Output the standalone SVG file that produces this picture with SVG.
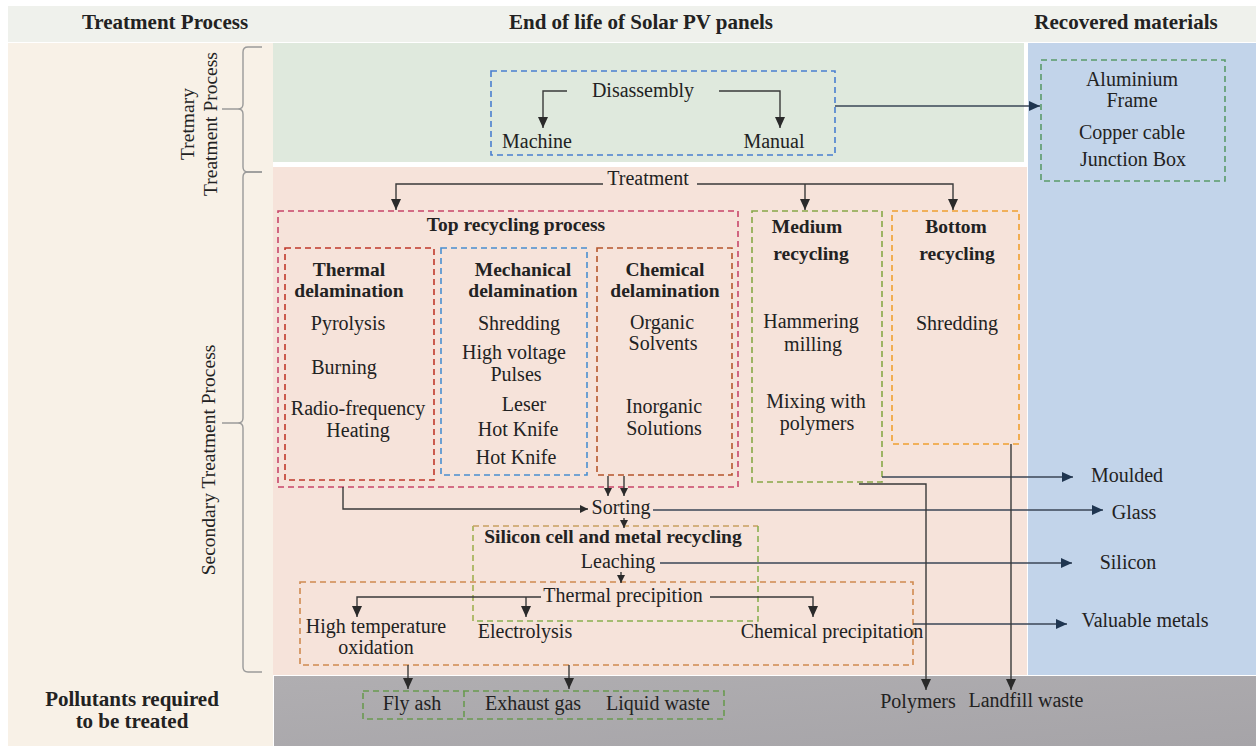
<svg xmlns="http://www.w3.org/2000/svg" width="1256" height="746" viewBox="0 0 1256 746">
<defs>
<marker id="ah" markerUnits="userSpaceOnUse" markerWidth="11" markerHeight="10" refX="11" refY="5" orient="auto"><path d="M0,0 L11,5 L0,10 Z" fill="#2a2a2a"/></marker>
<marker id="ab" markerUnits="userSpaceOnUse" markerWidth="11" markerHeight="10" refX="11" refY="5" orient="auto"><path d="M0,0 L11,5 L0,10 Z" fill="#1f3550"/></marker>
<marker id="as" markerUnits="userSpaceOnUse" markerWidth="8" markerHeight="8" refX="8" refY="4" orient="auto"><path d="M0,0 L8,4 L0,8 Z" fill="#2a2a2a"/></marker>
<linearGradient id="gr" x1="0" y1="0" x2="1" y2="1"><stop offset="0" stop-color="#b0aeb1"/><stop offset="1" stop-color="#a6a4a8"/></linearGradient>
</defs>
<style>
.t{font-family:"Liberation Serif",serif;font-size:20px;fill:#222;text-anchor:middle}
.b{font-weight:bold;font-size:19.5px}
.h{font-size:21px;font-weight:bold}
.v{font-size:19.5px}
.ln{fill:none;stroke:#3a3a3a;stroke-width:1.4}
.lb{fill:none;stroke:#3a4656;stroke-width:1.4}
.d{fill:none;stroke-width:1.6;stroke-dasharray:6 4}
.br{fill:none;stroke:#9a9a9a;stroke-width:1.4}
</style>
<rect x="0" y="0" width="1256" height="746" fill="#ffffff"/>
<g id="background">
<rect x="8" y="6" width="1248" height="36" fill="#eff1ec"/>
<rect x="8" y="43" width="265" height="703" fill="#f8f1e7"/>
<rect x="273" y="43" width="751" height="119" fill="#dfe9dd"/>
<rect x="273" y="167" width="754" height="508" fill="#f6e3da"/>
<rect x="1028" y="43" width="228" height="632" fill="#c2d4ea"/>
<rect x="274" y="676" width="982" height="70" fill="url(#gr)"/>
</g>
<g id="headers">
<text class="t h" x="165" y="29">Treatment Process</text>
<text class="t h" x="641" y="29">End of life of Solar PV panels</text>
<text class="t h" x="1126" y="29">Recovered materials</text>
</g>
<g id="side-labels">
<path class="br" d="M262,47 H248 Q243,47 243,52 V104 Q243,109 238,109 H222 M238,109 Q243,109 243,114 V167 Q243,172 248,172 H262"/>
<path class="br" d="M262,172 H248 Q243,172 243,177 V418 Q243,423 238,423 H222 M238,423 Q243,423 243,428 V667 Q243,672 248,672 H262"/>
<text class="t v" transform="translate(194,124) rotate(-90)">Tretmary</text>
<text class="t v" transform="translate(217,124) rotate(-90)">Treatment Process</text>
<text class="t v" transform="translate(215,460) rotate(-90)">Secondary Treatment Process</text>
<text class="t h" x="132" y="706">Pollutants required</text>
<text class="t h" x="132" y="728">to be treated</text>
</g>
<g id="disassembly">
<rect class="d" x="491" y="71" width="344" height="84" stroke="#4a7fcf"/>
<text class="t" x="643" y="97">Disassembly</text>
<text class="t" x="537" y="148">Machine</text>
<text class="t" x="774" y="148">Manual</text>
</g>
<g id="recovered-parts">
<rect class="d" x="1041" y="60" width="184" height="121" stroke="#5a9a6a"/>
<text class="t" x="1132" y="86">Aluminium</text>
<text class="t" x="1132" y="107">Frame</text>
<text class="t" x="1132" y="139">Copper cable</text>
<text class="t" x="1133" y="166">Junction Box</text>
</g>
<g id="treatment">
<text class="t" x="648" y="185">Treatment</text>
</g>
<g id="top-recycling">
<rect class="d" x="278" y="211" width="460" height="276" stroke="#c8466a"/>
<text class="t b" x="516" y="231">Top recycling process</text>
</g>
<g id="thermal">
<rect class="d" x="285" y="248" width="149" height="232" stroke="#c0392b"/>
<text class="t b" x="349" y="276">Thermal</text>
<text class="t b" x="349" y="297">delamination</text>
<text class="t" x="348" y="330">Pyrolysis</text>
<text class="t" x="344" y="374">Burning</text>
<text class="t" x="358" y="415">Radio-frequency</text>
<text class="t" x="358" y="437">Heating</text>
</g>
<g id="mechanical">
<rect class="d" x="441" y="248" width="146" height="227" stroke="#4a8fd0"/>
<text class="t b" x="523" y="276">Mechanical</text>
<text class="t b" x="523" y="297">delamination</text>
<text class="t" x="519" y="330">Shredding</text>
<text class="t" x="514" y="359">High voltage</text>
<text class="t" x="516" y="381">Pulses</text>
<text class="t" x="524" y="411">Leser</text>
<text class="t" x="518" y="436">Hot Knife</text>
<text class="t" x="516" y="464">Hot Knife</text>
</g>
<g id="chemical">
<rect class="d" x="597" y="248" width="135" height="227" stroke="#b5562c"/>
<text class="t b" x="665" y="276">Chemical</text>
<text class="t b" x="665" y="297">delamination</text>
<text class="t" x="662" y="329">Organic</text>
<text class="t" x="663" y="350">Solvents</text>
<text class="t" x="664" y="413">Inorganic</text>
<text class="t" x="664" y="435">Solutions</text>
</g>
<g id="medium">
<rect class="d" x="752" y="211" width="130" height="271" stroke="#88a848"/>
<text class="t b" x="807" y="233">Medium</text>
<text class="t b" x="811" y="260">recycling</text>
<text class="t" x="811" y="328">Hammering</text>
<text class="t" x="813" y="351">milling</text>
<text class="t" x="816" y="408">Mixing with</text>
<text class="t" x="817" y="430">polymers</text>
</g>
<g id="bottom">
<rect class="d" x="892" y="211" width="127" height="233" stroke="#f0a030"/>
<text class="t b" x="956" y="233">Bottom</text>
<text class="t b" x="957" y="260">recycling</text>
<text class="t" x="957" y="330">Shredding</text>
</g>
<g id="sorting">
<text class="t" x="621" y="514">Sorting</text>
</g>
<g id="silicon">
<path class="d" d="M473,621 V526" stroke="#a0b050"/>
<path class="d" d="M473,526 H758" stroke="#c8a060"/>
<path class="d" d="M758,526 V621 H473" stroke="#8ab050"/>
<text class="t b" x="613" y="543">Silicon cell and metal recycling</text>
<text class="t" x="618" y="568">Leaching</text>
</g>
<g id="thermal-precipition">
<rect class="d" x="300" y="582" width="613" height="83" stroke="#d08a50"/>
<text class="t" x="623" y="602">Thermal precipition</text>
<text class="t" x="376" y="633">High temperature</text>
<text class="t" x="376" y="654">oxidation</text>
<text class="t" x="525" y="638">Electrolysis</text>
<text class="t" x="832" y="638">Chemical precipitation</text>
</g>
<g id="recovered-outputs">
<text class="t" x="1127" y="482">Moulded</text>
<text class="t" x="1134" y="519">Glass</text>
<text class="t" x="1128" y="569">Silicon</text>
<text class="t" x="1145" y="627">Valuable metals</text>
</g>
<g id="pollutants">
<rect class="d" x="363" y="691" width="361" height="28" stroke="#6a9a50"/>
<path class="d" d="M464,691 V719" stroke="#6a9a50"/>
<text class="t" x="412" y="710">Fly ash</text>
<text class="t" x="533" y="710">Exhaust gas</text>
<text class="t" x="658" y="710">Liquid waste</text>
<text class="t" x="918" y="708">Polymers</text>
<text class="t" x="1026" y="707">Landfill waste</text>
</g>
<g id="connectors">
<path class="ln" d="M567,91 H543 V128" marker-end="url(#ah)"/>
<path class="ln" d="M719,91 H780 V128" marker-end="url(#ah)"/>
<path class="lb" d="M835,106 H1040" marker-end="url(#ab)"/>
<path class="ln" d="M603,184 H396 V210" marker-end="url(#ah)"/>
<path class="ln" d="M697,184 H953 V210" marker-end="url(#ah)"/>
<path class="ln" d="M805,184 V210" marker-end="url(#ah)"/>
<path class="ln" d="M343,487 V509 H588" marker-end="url(#as)"/>
<path class="ln" d="M608,476 V496" marker-end="url(#as)"/>
<path class="ln" d="M624,476 V496" marker-end="url(#as)"/>
<path class="lb" d="M653,510 H1103" marker-end="url(#ab)"/>
<path class="ln" d="M624,518 V528" marker-end="url(#as)"/>
<path class="lb" d="M660,563 H1072" marker-end="url(#ab)"/>
<path class="ln" d="M621,572 V583" marker-end="url(#as)"/>
<path class="ln" d="M541,597 H357 V617" marker-end="url(#ah)"/>
<path class="ln" d="M526,597 V617" marker-end="url(#ah)"/>
<path class="ln" d="M710,597 H813 V617" marker-end="url(#ah)"/>
<path class="lb" d="M913,624 H1067" marker-end="url(#ab)"/>
<path class="lb" d="M882,477 H1073" marker-end="url(#ab)"/>
<path class="ln" d="M859,484 H926 V690" marker-end="url(#ah)"/>
<path class="ln" d="M1011,444 V690" marker-end="url(#ah)"/>
<path class="ln" d="M408,665 V689" marker-end="url(#ah)"/>
<path class="ln" d="M569,665 V689" marker-end="url(#ah)"/>
</g>
</svg>
